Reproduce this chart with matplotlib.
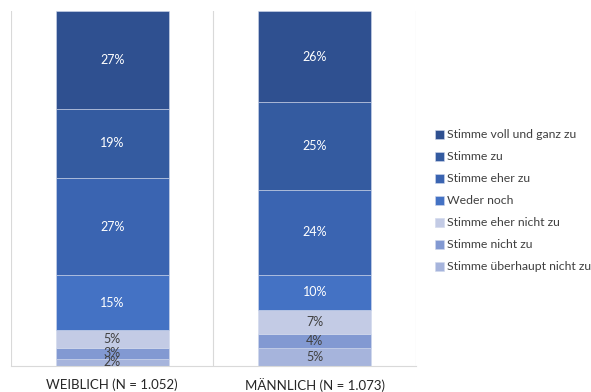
import matplotlib.pyplot as plt

plt.rcParams['font.family'] = ['Lato', 'DejaVu Sans']

# Antworten je Geschlecht, von unten nach oben gestapelt (Angaben in %)
groups = ['WEIBLICH (N = 1.052)', 'MÄNNLICH (N = 1.073)']
answers = ['Stimme überhaupt nicht zu', 'Stimme nicht zu', 'Stimme eher nicht zu',
           'Weder noch', 'Stimme eher zu', 'Stimme zu', 'Stimme voll und ganz zu']
weiblich = [2, 3, 5, 15, 27, 19, 27]
maennlich = [5, 4, 7, 10, 24, 25, 26]

colors = ['#A6B4DC', '#8299D2', '#C3CBE5', '#4472C4', '#3A64B1', '#345BA0', '#2F5090']
text_colors = ['#404040', '#404040', '#404040', 'white', 'white', 'white', 'white']

fig = plt.figure(figsize=(5.91, 3.92), dpi=100)
ax = fig.add_axes([11/591, 26/392, 405/591, 355/392])

series = [weiblich, maennlich]
x = [0, 1]
bottoms = [0.0, 0.0]
for i, label in enumerate(answers):
    heights = [s[i] / sum(s) * 100 for s in series]
    bars = ax.bar(x, heights, 0.56, bottom=bottoms, color=colors[i], label=label,
                  edgecolor='#D0D8EC', linewidth=0.4, zorder=2)
    for j, b in enumerate(bars):
        ax.text(b.get_x() + b.get_width() / 2, bottoms[j] + heights[j] / 2,
                f'{series[j][i]}%', ha='center', va='center', fontsize=9,
                color=text_colors[i], zorder=3)
    bottoms = [bottoms[k] + heights[k] for k in range(2)]

ax.set_xlim(-0.5, 1.5)
ax.set_ylim(0, 100)
for xv in (-0.5, 0.5, 1.5):
    ax.axvline(xv, color='#D9D9D9', linewidth=0.8, zorder=1)
for s in ('top', 'left', 'right'):
    ax.spines[s].set_visible(False)
ax.spines['bottom'].set_color('#D9D9D9')
ax.set_yticks([])
ax.set_xticks(x)
ax.set_xticklabels(groups, fontsize=9.5, color='#262626')
ax.tick_params(axis='x', length=0, pad=9)

handles, labels = ax.get_legend_handles_labels()
fig.legend(handles[::-1], labels[::-1], loc='center left',
           bbox_to_anchor=(424/591, 191/392), frameon=False, fontsize=8.8,
           labelcolor='#404040', handlelength=0.7, handleheight=0.7,
           handletextpad=0.3, labelspacing=0.9)

fig.savefig('out.png', dpi=100)
